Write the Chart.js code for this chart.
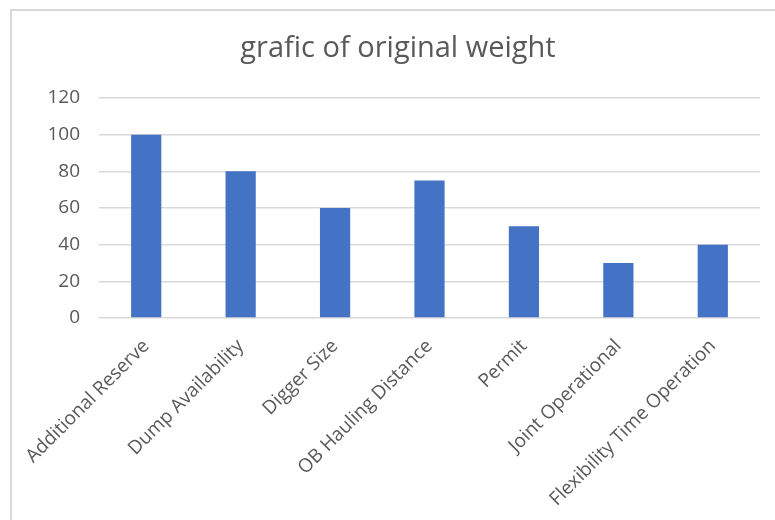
<!DOCTYPE html>
<html>
<head>
<meta charset="utf-8">
<script src="https://cdn.jsdelivr.net/npm/chart.js@4"></script>
<style>
  body { margin: 0; background: #fff; }
  #wrap { position: relative; width: 775px; height: 520px; overflow: hidden; }
  #frame { position: absolute; left: 10px; top: 9px; width: 900px; height: 700px; border: 2px solid #d9d9d9; box-sizing: border-box; }
  #chart { position: absolute; left: 0; top: 0; }
</style>
</head>
<body>
<div id="wrap">
  <div id="frame"></div>
  <canvas id="chart" width="775" height="520"></canvas>
</div>
<script>
const categories = [
  "Additional Reserve",
  "Dump Availability",
  "Digger Size",
  "OB Hauling Distance",
  "Permit",
  "Joint Operational",
  "Flexibility Time Operation"
];
const weights = [100, 80, 60, 75, 50, 30, 40];
const yTicks = [0, 20, 40, 60, 80, 100, 120];
const chartTitle = "grafic of original weight";

const textColor = "#595959";
const fontFamily = "'Open Sans', sans-serif";

// title is centred on the whole frame, not on the plot, so draw it by hand
const titlePlugin = {
  id: "frameTitle",
  afterDraw(chart) {
    const ctx = chart.ctx;
    ctx.save();
    ctx.font = "29px " + fontFamily;
    ctx.fillStyle = textColor;
    ctx.textAlign = "center";
    ctx.textBaseline = "middle";
    ctx.fillText(chartTitle, 398, 49);
    ctx.restore();
  },
};

new Chart(document.getElementById("chart"), {
  type: "bar",
  data: {
    labels: categories,
    datasets: [
      {
        label: "weight",
        data: weights,
        backgroundColor: "#4472C4",
        borderWidth: 0,
        barPercentage: 0.32,
        categoryPercentage: 1,
      },
    ],
  },
  options: {
    responsive: false,
    animation: false,
    layout: { padding: { top: 98, right: 15, left: 0, bottom: 0 } },
    plugins: {
      legend: { display: false },
      tooltip: { enabled: false },
      title: { display: false },
    },
    scales: {
      x: {
        grid: { display: false },
        border: { display: false },
        ticks: {
          color: textColor,
          font: { family: fontFamily, size: 19 },
          minRotation: 45,
          maxRotation: 45,
          padding: 9,
          autoSkip: false,
        },
        afterFit: (scale) => { scale.height = 202; },
      },
      y: {
        min: yTicks[0],
        max: yTicks[yTicks.length - 1],
        afterBuildTicks: (scale) => { scale.ticks = yTicks.map((v) => ({ value: v })); },
        grid: { color: "#d9d9d9", lineWidth: 1.5, drawTicks: false },
        border: { display: false },
        ticks: {
          color: textColor,
          font: { family: fontFamily, size: 19 },
          padding: 19,
        },
        afterFit: (scale) => { scale.width = 99; },
      },
    },
  },
  plugins: [titlePlugin],
});
</script>
</body>
</html>
